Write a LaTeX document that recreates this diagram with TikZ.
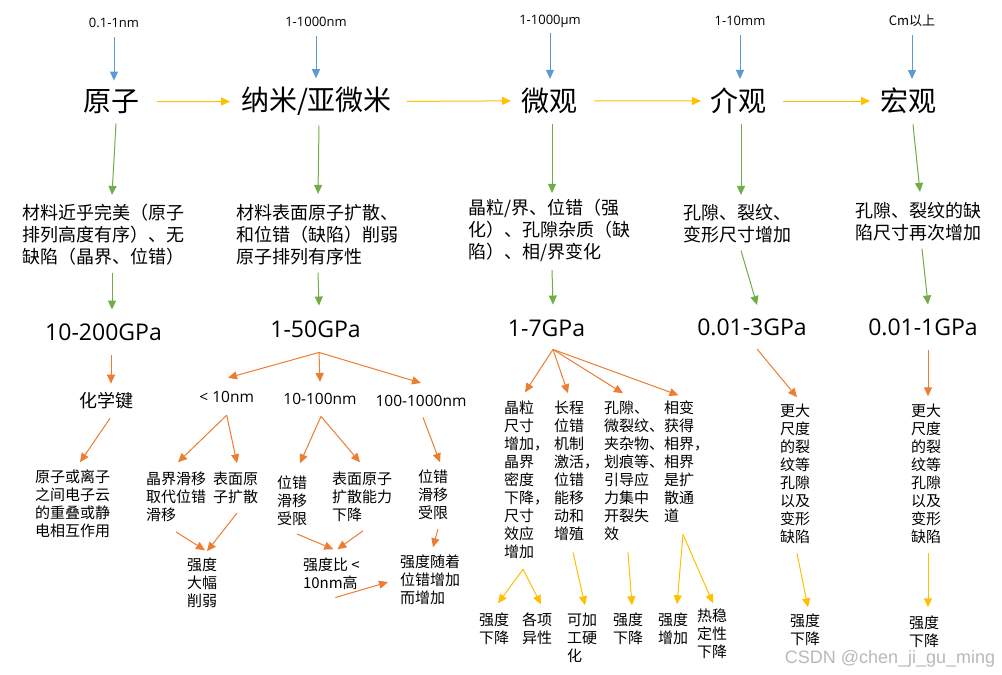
\documentclass[tikz,border=0pt]{standalone}
\usepackage{fontspec}
\setmainfont{Noto Sans CJK SC}
\newfontfamily\lat{Open Sans}
\newfontfamily\wmfont{Liberation Sans}
\usetikzlibrary{arrows.meta}
\definecolor{cblue}{HTML}{5B9BD5}
\definecolor{cyel}{HTML}{FFC000}
\definecolor{cgrn}{HTML}{70AD47}
\definecolor{corg}{HTML}{ED7D31}
\tikzset{
  every node/.style={inner sep=0pt, outer sep=0pt},
  mainn/.style={font=\fontsize{28}{30}\selectfont},
  desc/.style={font=\fontsize{18}{22}\selectfont, align=left, anchor=north west},
  small/.style={font=\fontsize{15}{17.9}\selectfont, align=left, anchor=north west},
  gpa/.style={font=\lat\fontsize{23}{26}\selectfont},
  toplbl/.style={font=\lat\fontsize{13}{15}\selectfont},
  brl/.style={font=\lat\fontsize{15.5}{18}\selectfont},
  con/.style={line width=1pt, -{Triangle[length=9pt,width=8pt]}},
  blu/.style={con, cblue},
  yel/.style={con, cyel},
  grn/.style={con, cgrn},
  org/.style={con, corg}
}
\begin{document}
\begin{tikzpicture}[x=1pt,y=-1pt]
\fill[white] (0,0) rectangle (1002,675);
\useasboundingbox (0,0) rectangle (1002,675);

% top labels
\node[toplbl] (t1) at (114,23) {0.1-1nm};
\node[toplbl] (t2) at (316,21.7) {1-1000nm};
\node[toplbl] (t3) at (550,21.7) {1-1000μm};
\node[toplbl] (t4) at (740,20.5) {1-10mm};
\node[font=\fontsize{13}{15}\selectfont] (t5) at (912,20.5) {Cm以上};

% main scale nodes
\node[mainn] (m1) at (111,101.7) {原子};
\node[mainn] (m2) at (316.5,101.5) {纳米/亚微米};
\node[mainn] (m3) at (549.5,100.8) {微观};
\node[mainn] (m4) at (738.5,101) {介观};
\node[mainn] (m5) at (908.5,101) {宏观};

% descriptions
\node[desc] (d1) at (23,203.9) {材料近乎完美（原子\\排列高度有序）、无\\缺陷（晶界、位错）};
\node[desc] (d2) at (236,203.9) {材料表面原子扩散、\\和位错（缺陷）削弱\\原子排列有序性};
\node[desc] (d3) at (468,198.9) {晶粒/界、位错（强\\化）、孔隙杂质（缺\\陷）、相/界变化};
\node[desc] (d4) at (683,203.9) {孔隙、裂纹、\\变形尺寸增加};
\node[desc] (d5) at (855,201.9) {孔隙、裂纹的缺\\陷尺寸再次增加};

% strengths
\node[gpa] (g1) at (103.5,332) {10-200GPa};
\node[gpa] (g2) at (315.5,329) {1-50GPa};
\node[gpa] (g3) at (546.5,328) {1-7GPa};
\node[gpa] (g4) at (752,327.5) {0.01-3GPa};
\node[gpa] (g5) at (923,327) {0.01-1GPa};

% atom branch
\node[font=\fontsize{18}{20}\selectfont] (hx) at (106.5,401) {化学键};
\node[small] (e1) at (35,470.25) {原子或离子\\之间电子云\\的重叠或静\\电相互作用};

% nano branch
\node[brl] (l1) at (226.7,397) {< 10nm};
\node[brl] (l2) at (320,398.7) {10-100nm};
\node[brl] (l3) at (421,400.7) {100-1000nm};
\node[small] (n1) at (146,472.25) {晶界滑移\\取代位错\\滑移};
\node[small] (n2) at (213,472.25) {表面原\\子扩散};
\node[small] (n3) at (277,476.25) {位错\\滑移\\受限};
\node[small] (n4) at (332,472.25) {表面原子\\扩散能力\\下降};
\node[small] (n5) at (418,470.25) {位错\\滑移\\受限};
\node[small] (s1) at (187,558.25) {强度\\大幅\\削弱};
\node[small] (s2) at (303,558.25) {强度比 <\\10nm高};
\node[small] (s3) at (400,555.25) {强度随着\\位错增加\\而增加};

% micro branch
\node[small] (c1) at (504,401.25) {晶粒\\尺寸\\增加，\\晶界\\密度\\下降，\\尺寸\\效应\\增加};
\node[small] (c2) at (554,401.25) {长程\\位错\\机制\\激活，\\位错\\能移\\动和\\增殖};
\node[small] (c3) at (604,401.25) {孔隙、\\微裂纹、\\夹杂物、\\划痕等、\\引导应\\力集中\\开裂失\\效};
\node[small] (c4) at (664,401.25) {相变\\获得\\相界，\\相界\\是扩\\散通\\道};
\node[small] (r1) at (479,613.25) {强度\\下降};
\node[small] (r2) at (522,613.25) {各项\\异性};
\node[small] (r3) at (567,613.25) {可加\\工硬\\化};
\node[small] (r4) at (613,613.25) {强度\\下降};
\node[small] (r5) at (658,613.25) {强度\\增加};
\node[small] (r6) at (697,609.25) {热稳\\定性\\下降};

% meso / macro branches
\node[small] (k1) at (780,404.25) {更大\\尺度\\的裂\\纹等\\孔隙\\以及\\变形\\缺陷};
\node[small] (k2) at (911,404.25) {更大\\尺度\\的裂\\纹等\\孔隙\\以及\\变形\\缺陷};
\node[small] (q1) at (790,614.25) {强度\\下降};
\node[small] (q2) at (909,616.25) {强度\\下降};

% watermark
\node[font=\wmfont\fontsize{18}{20}\selectfont, text=gray!55, anchor=base] (wm) at (890,663) {CSDN @chen\_ji\_gu\_ming};

% blue arrows
\draw[blu, shorten <=9.5pt, shorten >=9pt] (t1.south) -- (t1.south |- m1.north);
\draw[blu, shorten <=9.7pt, shorten >=9pt] (t2.south) -- (t2.south |- m2.north);
\draw[blu, shorten <=5.5pt, shorten >=9pt] (t3.south) -- (t3.south |- m3.north);
\draw[blu, shorten <=10pt, shorten >=9pt] (t4.south) -- (t4.south |- m4.north);
\draw[blu, shorten <=8.6pt, shorten >=9pt] (t5.south) -- (t5.south |- m5.north);

% yellow horizontal arrows
\draw[yel, shorten <=18pt, shorten >=11pt] (m1.east) -- (m2.west);
\draw[yel, shorten <=15pt, shorten >=10.5pt] (m2.east) -- (m3.west);
\draw[yel, shorten <=16.5pt, shorten >=9.5pt] (m3.east) -- (m4.west);
\draw[yel, shorten <=16.5pt, shorten >=10.5pt] (m4.east) -- (m5.west);

% green arrows
\draw[grn] ([xshift=5pt,yshift=-9.7pt]m1.south) -- ([xshift=8pt,yshift=9pt]d1.north);
\draw[grn] ([xshift=2.5pt,yshift=-9.9pt]m2.south) -- ([xshift=1pt,yshift=10pt]d2.north);
\draw[grn] ([xshift=2.5pt,yshift=-10.6pt]m3.south) -- ([xshift=3pt,yshift=6pt]d3.north);
\draw[grn] ([xshift=2.5pt,yshift=-10.4pt]m4.south) -- ([xshift=4pt,yshift=9pt]d4.north);
\draw[grn] ([xshift=4.5pt,yshift=-10.4pt]m5.south) -- ([xshift=2pt,yshift=10pt]d5.north);
\draw[grn] ([xshift=8pt,yshift=-7.5pt]d1.south) -- ([xshift=8.5pt,yshift=14pt]g1.north);
\draw[grn] ([xshift=1pt,yshift=-8pt]d2.south) -- ([xshift=3.5pt,yshift=15pt]g2.north);
\draw[grn] ([xshift=3pt,yshift=-8.5pt]d3.south) -- ([xshift=6.5pt,yshift=15pt]g3.north);
\draw[grn] ([xshift=4pt,yshift=-8pt]d4.south) -- ([xshift=5pt,yshift=14pt]g4.north);
\draw[grn] ([xshift=4pt,yshift=-8pt]d5.south) -- ([xshift=5pt,yshift=14pt]g5.north);

% orange arrows
\draw[org] ([xshift=7.5pt,yshift=-15pt]g1.south) -- ([xshift=4.5pt,yshift=8.9pt]hx.north);
\draw[org] ([xshift=3.5pt,yshift=-8.9pt]hx.south) -- ([xshift=7.5pt,yshift=8pt]e1.north);
\coordinate (b2) at ([xshift=3.5pt,yshift=-15pt]g2.south);
\draw[org] (b2) -- ([xshift=1.3pt,yshift=13.5pt]l1.north);
\draw[org] (b2) -- ([yshift=11pt]l2.north);
\draw[org] (b2) -- ([yshift=12pt]l3.north);
\coordinate (b3) at ([yshift=-12.5pt]l1.south);
\draw[org] (b3) -- ([xshift=2pt,yshift=10pt]n1.north);
\draw[org] (b3) -- ([xshift=1.5pt,yshift=9pt]n2.north);
\draw[org] ([yshift=-10pt]n1.south) -- ([xshift=3pt,yshift=8pt]s1.north);
\draw[org] ([xshift=1.5pt,yshift=-9pt]n2.south) -- ([xshift=5pt,yshift=7pt]s1.north);
\coordinate (b5) at ([xshift=1pt,yshift=-12pt]l2.south);
\draw[org] (b5) -- ([xshift=8pt,yshift=13pt]n3.north);
\draw[org] (b5) -- ([xshift=-2pt,yshift=10pt]n4.north);
\draw[org] ([xshift=5pt,yshift=-8pt]n3.south) -- ([xshift=2pt,yshift=9pt]s2.north);
\draw[org] ([xshift=1pt,yshift=-9pt]n4.south) -- ([xshift=6pt,yshift=9pt]s2.north);
\draw[org] ([xshift=4pt,yshift=-7.5pt]s2.south) -- ([xshift=-12pt,yshift=-2pt]s3.west);
\draw[org] ([xshift=2pt,yshift=-11pt]l3.south) -- ([xshift=7pt,yshift=8pt]n5.north);
\draw[org] ([xshift=5pt,yshift=-9pt]n5.south) -- ([xshift=3pt,yshift=8pt]s3.north);
\coordinate (b6) at ([xshift=6.5pt,yshift=-13pt]g3.south);
\draw[org] (b6) -- ([xshift=-1.5pt,yshift=9pt]c1.north);
\draw[org] (b6) -- ([xshift=-8.5pt,yshift=8pt]c2.north);
\draw[org] (b6) -- ([xshift=-11pt,yshift=8pt]c3.north);
\draw[org] (b6) -- ([xshift=-8pt,yshift=6pt]c4.north);
\draw[org] ([xshift=5pt,yshift=-13pt]g4.south) -- ([xshift=2pt,yshift=7pt]k1.north);
\draw[org] ([xshift=5pt,yshift=-14pt]g5.south) -- ([xshift=2pt,yshift=8pt]k2.north);

% yellow lower arrows
\coordinate (b7) at ([xshift=-3.5pt,yshift=-11pt]c1.south);
\draw[yel] (b7) -- ([xshift=4pt,yshift=10pt]r1.north);
\draw[yel] (b7) -- ([xshift=4pt,yshift=9pt]r2.north);
\draw[yel] ([xshift=-3.5pt,yshift=-12pt]c2.south) -- ([xshift=3pt,yshift=8pt]r3.north);
\draw[yel] ([xshift=-6pt,yshift=-12pt]c3.south) -- ([xshift=4pt,yshift=8pt]r4.north);
\coordinate (b8) at ([xshift=-3.5pt,yshift=-12pt]c4.south);
\draw[yel] (b8) -- ([xshift=4pt,yshift=9pt]r5.north);
\draw[yel] (b8) -- ([xshift=1pt,yshift=6pt]r6.north);
\draw[yel] ([xshift=2pt,yshift=-10pt]k1.south) -- ([xshift=3pt,yshift=7pt]q1.north);
\draw[yel] ([xshift=2pt,yshift=-10pt]k2.south) -- ([xshift=4pt,yshift=9pt]q2.north);
\end{tikzpicture}
\end{document}
